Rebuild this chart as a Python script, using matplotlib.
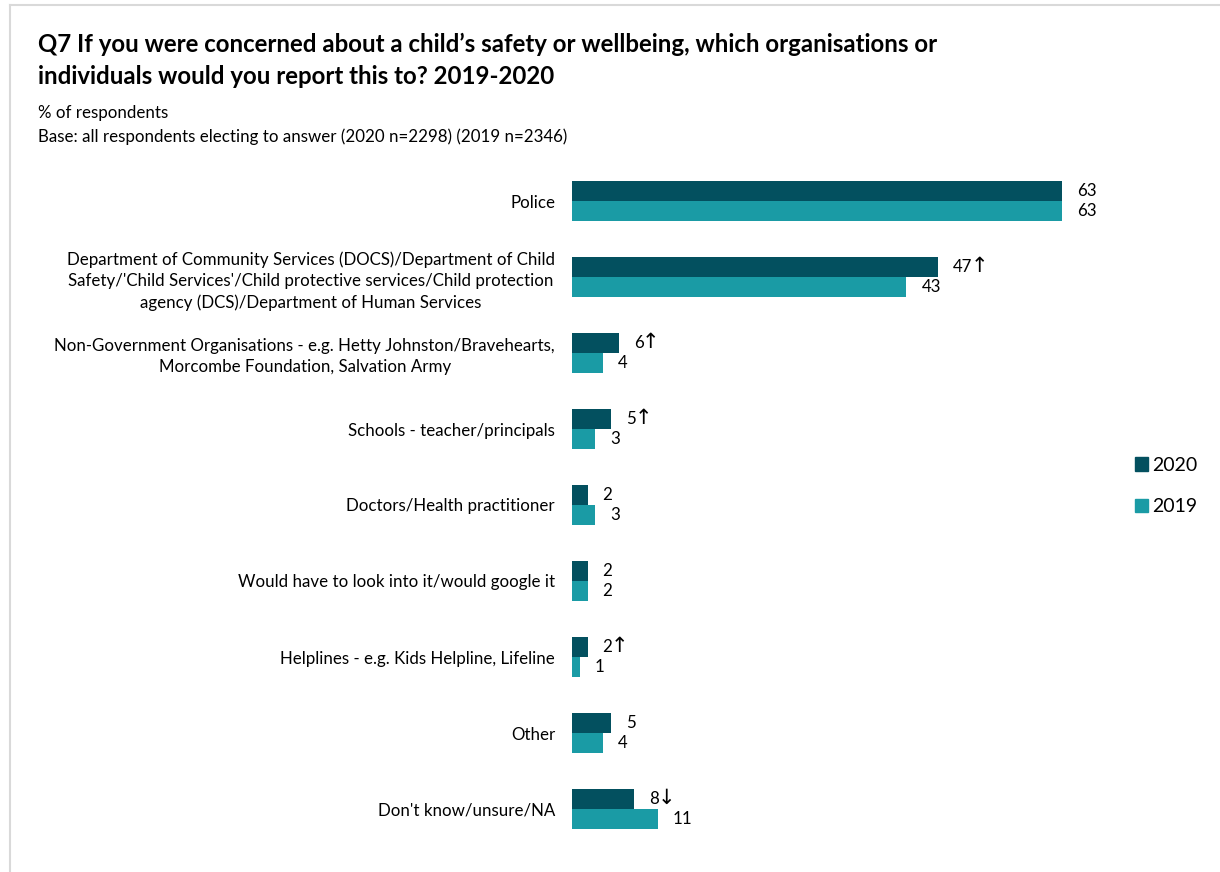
import matplotlib.pyplot as plt
from matplotlib.lines import Line2D
from matplotlib.patches import Patch

plt.rcParams['font.family'] = ['Lato', 'DejaVu Sans']

# survey categories and % of respondents
categories = [
    "Police",
    "Department of Community Services (DOCS)/Department of Child\n"
    "Safety/'Child Services'/Child protective services/Child protection\n"
    "agency (DCS)/Department of Human Services",
    "Non-Government Organisations - e.g. Hetty Johnston/Bravehearts,\n"
    "Morcombe Foundation, Salvation Army",
    "Schools - teacher/principals",
    "Doctors/Health practitioner",
    "Would have to look into it/would google it",
    "Helplines - e.g. Kids Helpline, Lifeline",
    "Other",
    "Don't know/unsure/NA",
]
vals_2020 = [63, 47, 6, 5, 2, 2, 2, 5, 8]
vals_2019 = [63, 43, 4, 3, 3, 2, 1, 4, 11]
# significant change markers for 2020 vs 2019
change_2020 = ["", "↑", "↑", "↑", "", "", "↑", "", "↓"]

c2020 = "#03505F"
c2019 = "#1A9BA5"
fs = 12.2

fig = plt.figure(figsize=(12.2, 8.72), dpi=100)
W, H = 1220, 872

# thin grey border along top and left
fig.add_artist(Line2D([10 / W, 1], [1 - 5 / H, 1 - 5 / H], color="#d9d9d9", lw=1.5))
fig.add_artist(Line2D([10 / W, 10 / W], [0, 1 - 5 / H], color="#d9d9d9", lw=1.5))

fig.text(38 / W, 1 - 33 / H,
         "Q7 If you were concerned about a child’s safety or wellbeing, which organisations or\n"
         "individuals would you report this to? 2019-2020",
         fontsize=17.3, fontweight="bold", va="top", ha="left", linespacing=1.45)
fig.text(38 / W, 1 - 113 / H, "% of respondents", fontsize=fs, va="center")
fig.text(38 / W, 1 - 137 / H,
         "Base: all respondents electing to answer (2020 n=2298) (2019 n=2346)",
         fontsize=fs, va="center")

ax = fig.add_axes([572 / W, 1 - 847 / H, 490 / W, 684 / H])
y = list(range(len(categories)))
h = 20 / 76
ax.barh([i - h / 2 for i in y], vals_2020, height=h, color=c2020, label="2020")
ax.barh([i + h / 2 for i in y], vals_2019, height=h, color=c2019, label="2019")

for i in y:
    ax.annotate(f"{vals_2020[i]}", (vals_2020[i], i - h / 2),
                xytext=(15, 0), textcoords="offset pixels",
                va="center", ha="left", fontsize=fs, annotation_clip=False)
    if change_2020[i]:
        # arrow drawn right after the number
        ax.annotate(change_2020[i], (vals_2020[i], i - h / 2),
                    xytext=(14 + 9.5 * len(str(vals_2020[i])), 1), textcoords="offset pixels",
                    va="center", ha="left", fontsize=15,
                    family="DejaVu Sans", annotation_clip=False)
    ax.annotate(f"{vals_2019[i]}", (vals_2019[i], i + h / 2),
                xytext=(15, 0), textcoords="offset pixels",
                va="center", ha="left", fontsize=fs, annotation_clip=False)

ax.set_xlim(0, 63)
ax.set_ylim(len(categories) - 0.5, -0.5)
ax.set_yticks(y)
ax.set_yticklabels(categories, fontsize=fs, multialignment="center", linespacing=1.38)
ax.tick_params(axis="y", length=0, pad=12.2)
ax.set_xticks([])
for s in ax.spines.values():
    s.set_visible(False)

handles = [Patch(color=c2020, label="2020"), Patch(color=c2019, label="2019")]
fig.legend(handles=handles, loc="center left", bbox_to_anchor=(1117 / W, 1 - 486 / H),
           frameon=False, fontsize=14, handlelength=0.7, handleheight=0.7,
           handletextpad=0.2, labelspacing=1.25)

fig.savefig("out.png", dpi=100)
